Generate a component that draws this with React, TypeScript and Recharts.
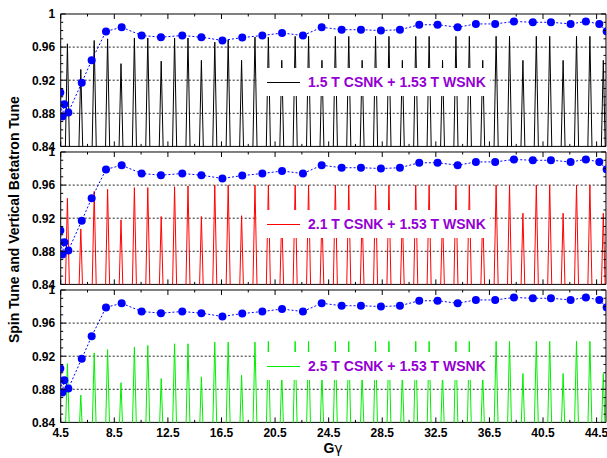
import React from "react";
import { LineChart, Line, XAxis, YAxis, CartesianGrid, ReferenceArea } from "recharts";

// Gγ of each resonance spike (integer Gγ), and peak heights read per panel
const GG_SPIKES = [
  5, 6, 7, 8, 9, 10, 11, 12, 13, 14, 15, 16, 17, 18, 19, 20, 21, 22, 23, 24, 25,
  26, 27, 28, 29, 30, 31, 32, 33, 34, 35, 36, 37, 38, 39, 40, 41, 42, 43, 44, 45,
];
const BLACK_PEAKS = [
  0.964, 0.933, 0.968, 0.97, 0.94, 0.971, 0.971, 0.943, 0.971, 0.971, 0.944,
  0.966, 0.969, 0.944, 0.972, 0.972, 0.944, 0.973, 0.973, 0.944, 0.973, 0.973,
  0.944, 0.973, 0.973, 0.944, 0.973, 0.973, 0.944, 0.973, 0.973, 0.944, 0.973,
  0.973, 0.944, 0.973, 0.973, 0.944, 0.973, 0.973, 0.944,
];
const RED_PEAKS = [
  0.944, 0.907, 0.9525, 0.955, 0.918, 0.957, 0.957, 0.922, 0.958, 0.959, 0.922,
  0.96, 0.96, 0.923, 0.96, 0.96, 0.924, 0.96, 0.96, 0.924, 0.96, 0.96, 0.925,
  0.96, 0.96, 0.925, 0.96, 0.96, 0.925, 0.96, 0.96, 0.926, 0.96, 0.96, 0.926,
  0.96, 0.96, 0.926, 0.96, 0.96, 0.926,
];
const GREEN_PEAKS = [
  0.911, 0.873, 0.924, 0.928, 0.888, 0.931, 0.933, 0.893, 0.935, 0.935, 0.895,
  0.937, 0.937, 0.897, 0.937, 0.938, 0.898, 0.938, 0.938, 0.898, 0.938, 0.938,
  0.899, 0.938, 0.938, 0.899, 0.938, 0.938, 0.899, 0.938, 0.938, 0.899, 0.938,
  0.938, 0.899, 0.938, 0.938, 0.899, 0.938, 0.938, 0.899,
];

// vertical betatron tune (blue dots), same in all panels
const TUNE_GG = [
  4.47, 4.62, 4.77, 5.07, 6.07, 6.81, 7.88, 9.05, 10.54, 11.98, 13.57, 15.0,
  16.57, 18.05, 19.55, 21.02, 22.58, 23.98, 25.47, 26.91, 28.4, 29.82, 31.26,
  32.63, 34.13, 35.49, 36.93, 38.33, 39.74, 41.09, 42.56, 43.7, 44.7, 45.25,
];
const TUNE_VALUES = [
  0.905, 0.876, 0.891, 0.881, 0.917, 0.944, 0.979, 0.984, 0.974, 0.972, 0.974,
  0.972, 0.968, 0.9715, 0.974, 0.977, 0.974, 0.984, 0.981, 0.981, 0.98, 0.981,
  0.987, 0.987, 0.984, 0.988, 0.988, 0.991, 0.99, 0.99, 0.988, 0.991, 0.988,
  0.979,
];

const Y_MAJOR = [0.84, 0.88, 0.92, 0.96, 1];
const Y_MINOR = [0.85, 0.86, 0.87, 0.89, 0.9, 0.91, 0.93, 0.94, 0.95, 0.97, 0.98, 0.99];
const Y_GRID = [0.88, 0.92, 0.96];
const X_MAJOR = [4.5, 8.5, 12.5, 16.5, 20.5, 24.5, 28.5, 32.5, 36.5, 40.5, 44.5];
const X_MINOR = [6.5, 10.5, 14.5, 18.5, 22.5, 26.5, 30.5, 34.5, 38.5, 42.5];
const LEGEND_LABELS = [
  "1.5 T CSNK + 1.53 T WSNK",
  "2.1 T CSNK + 1.53 T WSNK",
  "2.5 T CSNK + 1.53 T WSNK",
];

const W = 607;
const H = 458;
const PLOT_LEFT = 60.7;
const PLOT_RIGHT = 606;
const PLOT_H = 132.4;
const M_TOP = 10;
const X_DOMAIN: [number, number] = [4.5, 45.2];
const FONT = '"Liberation Sans", Arial, Helvetica, sans-serif';
const LEGEND_COLOR = "#9400d3";
const SPIKE_BASE = 0.8;
const SPIKE_HALF = 0.2;

const spikeRows = (peaks: number[]) =>
  GG_SPIKES.flatMap((g, i) => [
    { x: g - SPIKE_HALF, y: SPIKE_BASE },
    { x: g, y: peaks[i] },
    { x: g + SPIKE_HALF, y: SPIKE_BASE },
  ]);

const tuneRows = TUNE_GG.map((x, i) => ({ x, y: TUNE_VALUES[i] }));

interface PanelProps {
  plotTop: number;
  peaks: number[];
  color: string;
  label: string;
  legendTop: number;
  showX: boolean;
}

function Panel({ plotTop, peaks, color, label, legendTop, showX }: PanelProps) {
  const bottomH = showX ? 36 : 10;
  const height = M_TOP + PLOT_H + bottomH;
  const plotBottom = M_TOP + PLOT_H;

  const yTick = (props: any) => {
    const { y, payload } = props;
    const major = Y_MAJOR.includes(payload.value);
    const len = major ? 5 : 2.5;
    return (
      <g>
        <line x1={PLOT_LEFT} x2={PLOT_LEFT + len} y1={y} y2={y} stroke="#000" />
        <line x1={PLOT_RIGHT - len} x2={PLOT_RIGHT} y1={y} y2={y} stroke="#000" />
        {major && (
          <text
            x={PLOT_LEFT - 5.5}
            y={y}
            dy="0.36em"
            textAnchor="end"
            fontFamily={FONT}
            fontWeight="bold"
            fontSize={12}
            fill="#000"
          >
            {payload.value}
          </text>
        )}
      </g>
    );
  };

  const xTick = (props: any) => {
    const { x, payload } = props;
    const major = X_MAJOR.includes(payload.value);
    const len = major ? 5 : 2.5;
    return (
      <g>
        <line x1={x} x2={x} y1={plotBottom} y2={plotBottom - len} stroke="#000" />
        <line x1={x} x2={x} y1={M_TOP} y2={M_TOP + len} stroke="#000" />
        {showX && major && (
          <text
            x={x}
            y={plotBottom + 14.7}
            textAnchor="middle"
            fontFamily={FONT}
            fontWeight="bold"
            fontSize={12}
            fill="#000"
          >
            {payload.value}
          </text>
        )}
      </g>
    );
  };

  return (
    <>
      <div style={{ position: "absolute", left: 0, top: plotTop - M_TOP }}>
        <LineChart width={W} height={height} margin={{ top: M_TOP, right: W - PLOT_RIGHT, bottom: 0, left: 0 }}>
          <CartesianGrid vertical={false} horizontalValues={Y_GRID} stroke="#222" strokeDasharray="2 2" />
          <XAxis
            type="number"
            dataKey="x"
            domain={X_DOMAIN}
            allowDataOverflow
            ticks={[...X_MAJOR, ...X_MINOR].sort((a, b) => a - b)}
            interval={0}
            tick={xTick}
            tickLine={false}
            axisLine={false}
            height={bottomH}
          />
          <YAxis
            type="number"
            domain={[0.84, 1]}
            allowDataOverflow
            ticks={[...Y_MAJOR, ...Y_MINOR].sort((a, b) => a - b)}
            interval={0}
            tick={yTick}
            tickLine={false}
            axisLine={false}
            width={PLOT_LEFT}
          />
          <Line
            data={spikeRows(peaks)}
            dataKey="y"
            type="linear"
            stroke={color}
            strokeWidth={1}
            dot={false}
            isAnimationActive={false}
          />
          <Line
            data={tuneRows}
            dataKey="y"
            type="linear"
            stroke="#0000ff"
            strokeWidth={1}
            strokeDasharray="2 2"
            dot={{ r: 4, fill: "#0000ff", stroke: "none" }}
            isAnimationActive={false}
          />
          <ReferenceArea
            x1={X_DOMAIN[0]}
            x2={X_DOMAIN[1]}
            y1={0.84}
            y2={1}
            fill="none"
            stroke="#000"
            strokeWidth={1}
            ifOverflow="visible"
          />
        </LineChart>
      </div>
      <div
        style={{
          position: "absolute",
          left: 257,
          top: legendTop,
          width: 233,
          height: 28,
          background: "#fff",
        }}
      >
        <div
          style={{
            position: "absolute",
            left: 10,
            top: 13.5,
            width: 33,
            borderTop: `1.3px solid ${color}`,
          }}
        />
        <div
          style={{
            position: "absolute",
            left: 51,
            top: 0,
            lineHeight: "28px",
            fontFamily: FONT,
            fontWeight: "bold",
            fontSize: 14,
            color: LEGEND_COLOR,
            whiteSpace: "nowrap",
          }}
        >
          {label}
        </div>
      </div>
    </>
  );
}

export default function App() {
  return (
    <div style={{ position: "absolute", left: 0, top: 0, width: W, height: H, background: "#fff", overflow: "hidden" }}>
      <Panel plotTop={13.5} peaks={BLACK_PEAKS} color="#000000" label={LEGEND_LABELS[0]} legendTop={68} showX={false} />
      <Panel plotTop={152.3} peaks={RED_PEAKS} color="#ff0000" label={LEGEND_LABELS[1]} legendTop={210} showX={false} />
      <Panel plotTop={290} peaks={GREEN_PEAKS} color="#00ee00" label={LEGEND_LABELS[2]} legendTop={352} showX={true} />
      <svg width={W} height={H} style={{ position: "absolute", left: 0, top: 0, pointerEvents: "none" }}>
        <text
          x={14}
          y={219.7}
          transform="rotate(-90 14 219.7)"
          dy="0.36em"
          textAnchor="middle"
          fontFamily={FONT}
          fontWeight="bold"
          fontSize={14}
          fill="#000"
        >
          Spin Tune and Vertical Betatron Tune
        </text>
        <text x={333} y={453} textAnchor="middle" fontFamily={FONT} fontWeight="bold" fontSize={14} fill="#000">
          G<tspan fontFamily='"DejaVu Sans", sans-serif' fontWeight="normal">γ</tspan>
        </text>
      </svg>
    </div>
  );
}
